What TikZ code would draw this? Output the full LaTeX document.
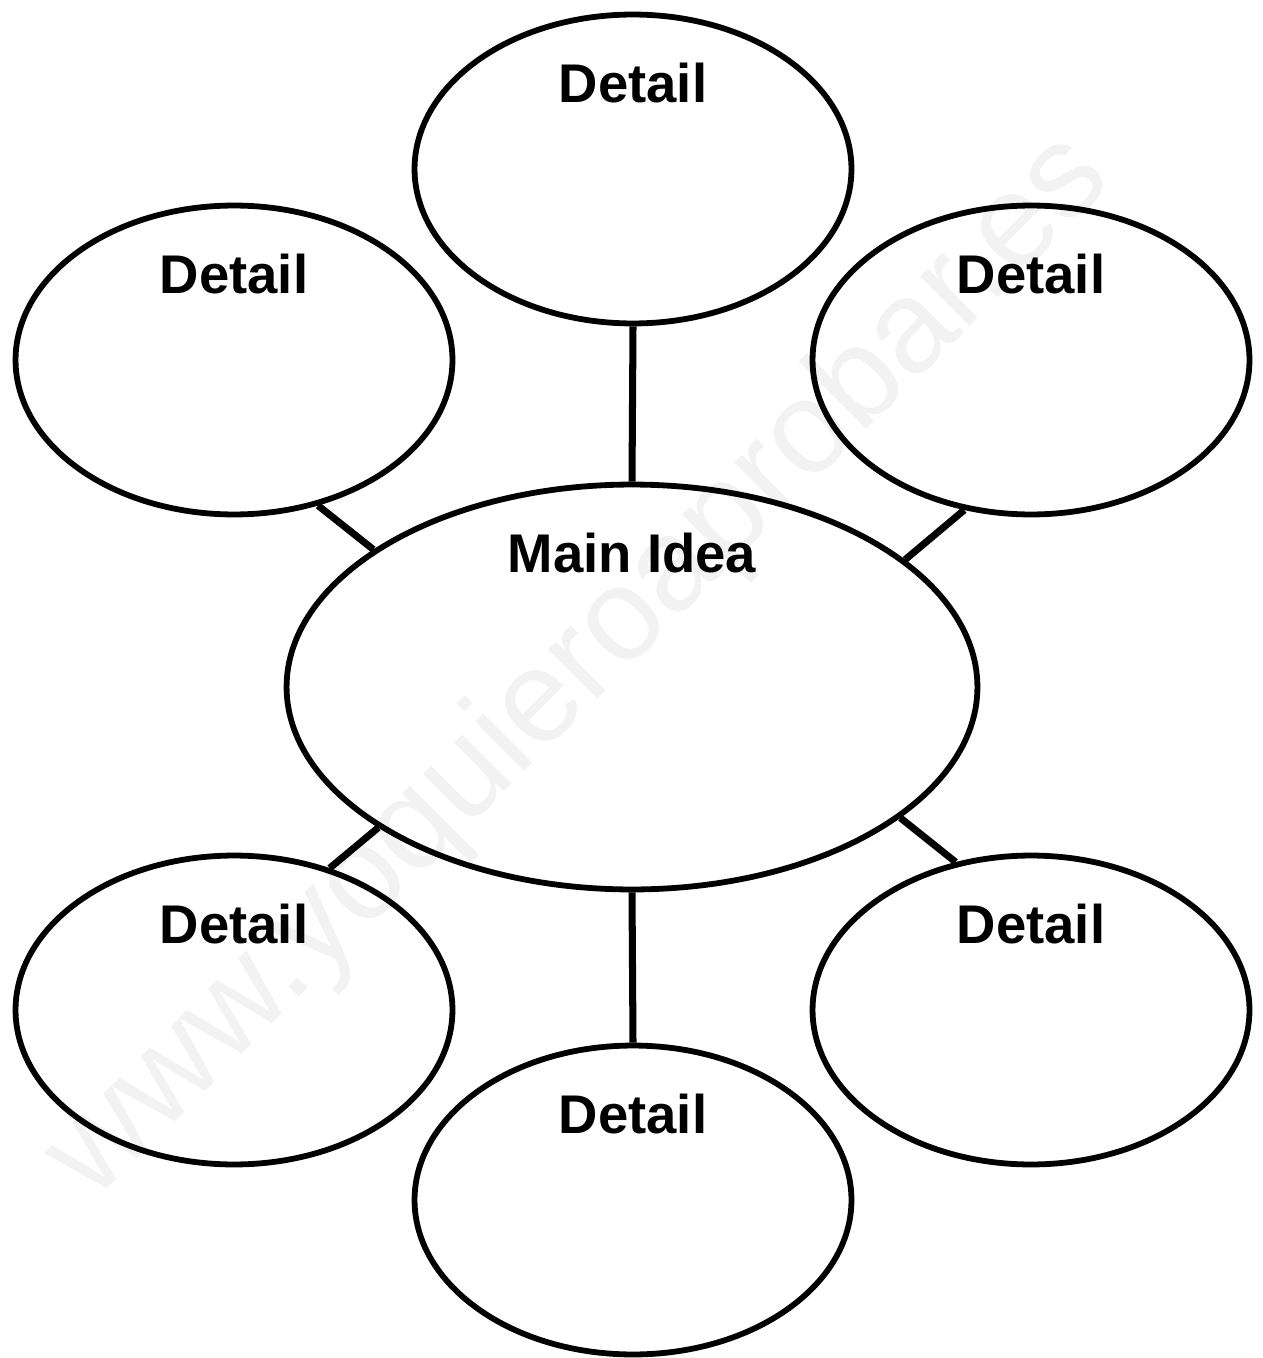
\documentclass[tikz,border=0pt]{standalone}
\usepackage{fontspec}
\setmainfont{Liberation Sans}
\usepackage{tikz}
\usetikzlibrary{positioning}
\usetikzlibrary{shapes.geometric}

\begin{document}
\begin{tikzpicture}[
      x=0.02cm, y=-0.02cm,
      bubble/.style={draw, ellipse, line width=3.3pt, inner sep=0pt,
        minimum width=8.74cm, minimum height=6.18cm},
      mainbubble/.style={bubble, minimum width=13.82cm, minimum height=8.1cm},
      lbl/.style={inner sep=0pt, font=\fontsize{31}{36}\selectfont\bfseries},
      link/.style={line width=4pt}
    ]
    \useasboundingbox (0,0) rectangle (1263,1358);
    % watermark
    \node[text=black!5, rotate=45, font=\fontsize{75}{80}\selectfont] (mark) at (580,668) {www.yoquieroaprobar.es};

    % bubbles
    \node[mainbubble] (main) at (632,687) {};
    \node[bubble] (top) at (633,169) {};
    \node[bubble] (topleft) at (234,360) {};
    \node[bubble] (topright) at (1031,360) {};
    \node[bubble] (botleft) at (234,1010) {};
    \node[bubble] (botright) at (1031,1010) {};
    \node[bubble] (bot) at (633,1200) {};

    % labels
    \node[lbl, below=1.02cm of main.north] {Main Idea};
    \node[lbl, below=1.02cm of top.north] {Detail};
    \node[lbl, below=1.02cm of topleft.north] {Detail};
    \node[lbl, below=1.02cm of topright.north] {Detail};
    \node[lbl, below=1.02cm of botleft.north] {Detail};
    \node[lbl, below=1.02cm of botright.north] {Detail};
    \node[lbl, below=1.02cm of bot.north] {Detail};

    % links
    \draw[link] (top.south) -- (main.north);
    \draw[link] (topleft.-60) -- (main.152);
    \draw[link] (topright.-114) -- (main.25);
    \draw[link] (botleft.56) -- (main.-151);
    \draw[link] (botright.117) -- (main.-26);
    \draw[link] (main.south) -- (bot.north);
\end{tikzpicture}
\end{document}
